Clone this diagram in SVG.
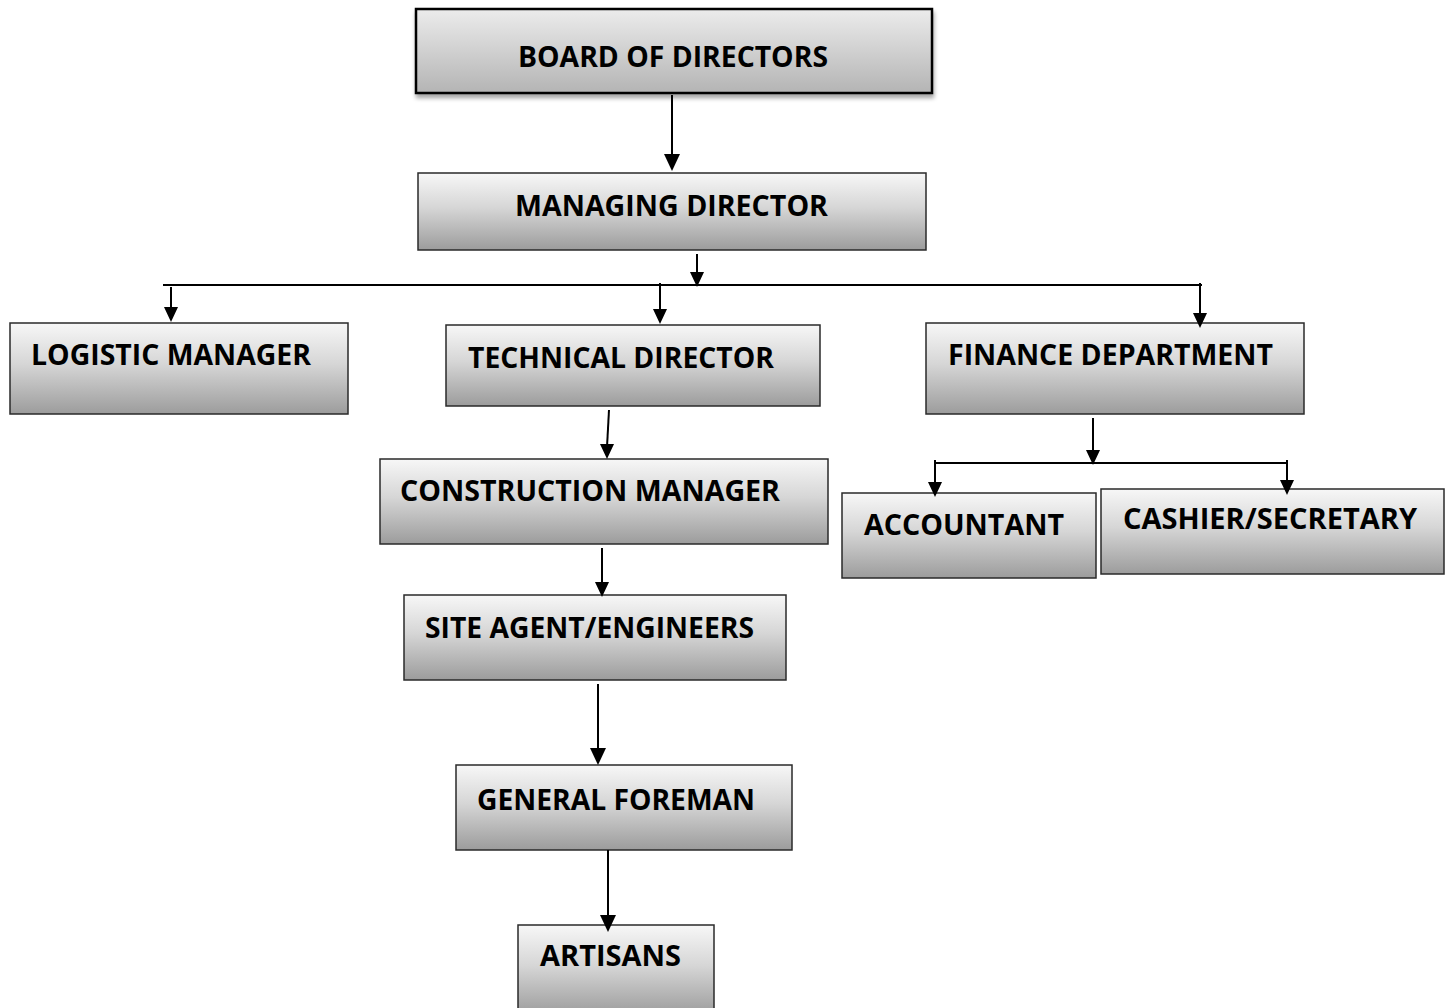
<svg xmlns="http://www.w3.org/2000/svg" xmlns:xlink="http://www.w3.org/1999/xlink" width="1449" height="1008" viewBox="0 0 1449 1008">
<defs>
<linearGradient id="g" x1="0" y1="0" x2="0" y2="1">
<stop offset="0" stop-color="#f7f7f7"/>
<stop offset="0.45" stop-color="#d6d6d6"/>
<stop offset="1" stop-color="#9c9c9c"/>
</linearGradient>
<linearGradient id="gb" x1="0" y1="0" x2="0" y2="1">
<stop offset="0" stop-color="#ececec"/>
<stop offset="1" stop-color="#b4b4b4"/>
</linearGradient>
<filter id="sh" x="-5%" y="-10%" width="110%" height="130%">
<feGaussianBlur in="SourceAlpha" stdDeviation="2"/>
<feOffset dx="1" dy="4"/>
<feComponentTransfer><feFuncA type="linear" slope="0.35"/></feComponentTransfer>
<feMerge><feMergeNode/><feMergeNode in="SourceGraphic"/></feMerge>
</filter>
<path id="ah" d="M-8,-17 L8,-17 L0,0 Z" fill="#000"/>
<path id="ahs" d="M-7,-15 L7,-15 L0,0 Z" fill="#000"/>
</defs>
<style>
.box{fill:url(#g);stroke:#2a2a2a;stroke-width:1.5}
.bod{fill:url(#gb);stroke:#000;stroke-width:2.5}
.t{font-family:"Open Sans","DejaVu Sans",sans-serif;font-weight:bold;font-size:28px;fill:#000}
.c{stroke:#000;stroke-width:2;fill:none}
</style>
<rect width="1449" height="1008" fill="#fff"/>
<g id="board">
<rect class="bod" x="416" y="9" width="516" height="84" filter="url(#sh)"/>
<text class="t" x="518" y="67" textLength="310" lengthAdjust="spacingAndGlyphs">BOARD OF DIRECTORS</text>
</g>
<g id="managing">
<rect class="box" x="418" y="173" width="508" height="77"/>
<text class="t" x="515" y="216" textLength="313" lengthAdjust="spacingAndGlyphs">MANAGING DIRECTOR</text>
</g>
<g id="logistic">
<rect class="box" x="10" y="323" width="338" height="91"/>
<text class="t" x="31" y="365" textLength="280" lengthAdjust="spacingAndGlyphs">LOGISTIC MANAGER</text>
</g>
<g id="technical">
<rect class="box" x="446" y="325" width="374" height="81"/>
<text class="t" x="468" y="368" textLength="306" lengthAdjust="spacingAndGlyphs">TECHNICAL DIRECTOR</text>
</g>
<g id="finance">
<rect class="box" x="926" y="323" width="378" height="91"/>
<text class="t" x="948" y="365" textLength="325" lengthAdjust="spacingAndGlyphs">FINANCE DEPARTMENT</text>
</g>
<g id="construction">
<rect class="box" x="380" y="459" width="448" height="85"/>
<text class="t" x="400" y="501" textLength="380" lengthAdjust="spacingAndGlyphs">CONSTRUCTION MANAGER</text>
</g>
<g id="site">
<rect class="box" x="404" y="595" width="382" height="85"/>
<text class="t" x="425" y="638" textLength="329" lengthAdjust="spacingAndGlyphs">SITE AGENT/ENGINEERS</text>
</g>
<g id="foreman">
<rect class="box" x="456" y="765" width="336" height="85"/>
<text class="t" x="477" y="810" textLength="278" lengthAdjust="spacingAndGlyphs">GENERAL FOREMAN</text>
</g>
<g id="artisans">
<rect class="box" x="518" y="925" width="196" height="90"/>
<text class="t" x="540" y="966" textLength="141" lengthAdjust="spacingAndGlyphs">ARTISANS</text>
</g>
<g id="accountant">
<rect class="box" x="842" y="493" width="254" height="85"/>
<text class="t" x="864" y="535" textLength="200" lengthAdjust="spacingAndGlyphs">ACCOUNTANT</text>
</g>
<g id="cashier">
<rect class="box" x="1101" y="489" width="343" height="85"/>
<text class="t" x="1123" y="529" textLength="294" lengthAdjust="spacingAndGlyphs">CASHIER/SECRETARY</text>
</g>
<g id="connectors">
<line class="c" x1="672" y1="95" x2="672" y2="158"/>
<use href="#ah" xlink:href="#ah" x="672" y="171"/>
<line class="c" x1="697" y1="254" x2="697" y2="274"/>
<use href="#ahs" xlink:href="#ahs" x="697" y="287"/>
<line class="c" x1="163" y1="285" x2="1202" y2="285"/>
<line class="c" x1="171" y1="287" x2="171" y2="310"/>
<use href="#ahs" xlink:href="#ahs" x="171" y="322"/>
<line class="c" x1="660" y1="283" x2="660" y2="312"/>
<use href="#ahs" xlink:href="#ahs" x="660" y="324"/>
<line class="c" x1="1200" y1="283" x2="1200" y2="316"/>
<use href="#ahs" xlink:href="#ahs" x="1200" y="328"/>
<line class="c" x1="609" y1="410" x2="607" y2="447"/>
<use href="#ahs" xlink:href="#ahs" x="607" y="459"/>
<line class="c" x1="602" y1="548" x2="602" y2="584"/>
<use href="#ahs" xlink:href="#ahs" x="602" y="597"/>
<line class="c" x1="598" y1="684" x2="598" y2="750"/>
<use href="#ah" xlink:href="#ah" x="598" y="765"/>
<line class="c" x1="608" y1="850" x2="608" y2="916"/>
<use href="#ah" xlink:href="#ah" x="608" y="932"/>
<line class="c" x1="1093" y1="418" x2="1093" y2="451"/>
<use href="#ahs" xlink:href="#ahs" x="1093" y="465"/>
<line class="c" x1="934" y1="463" x2="1288" y2="463"/>
<line class="c" x1="935" y1="460" x2="935" y2="484"/>
<use href="#ahs" xlink:href="#ahs" x="935" y="497"/>
<line class="c" x1="1287" y1="460" x2="1287" y2="482"/>
<use href="#ahs" xlink:href="#ahs" x="1287" y="495"/>
</g>
</svg>
